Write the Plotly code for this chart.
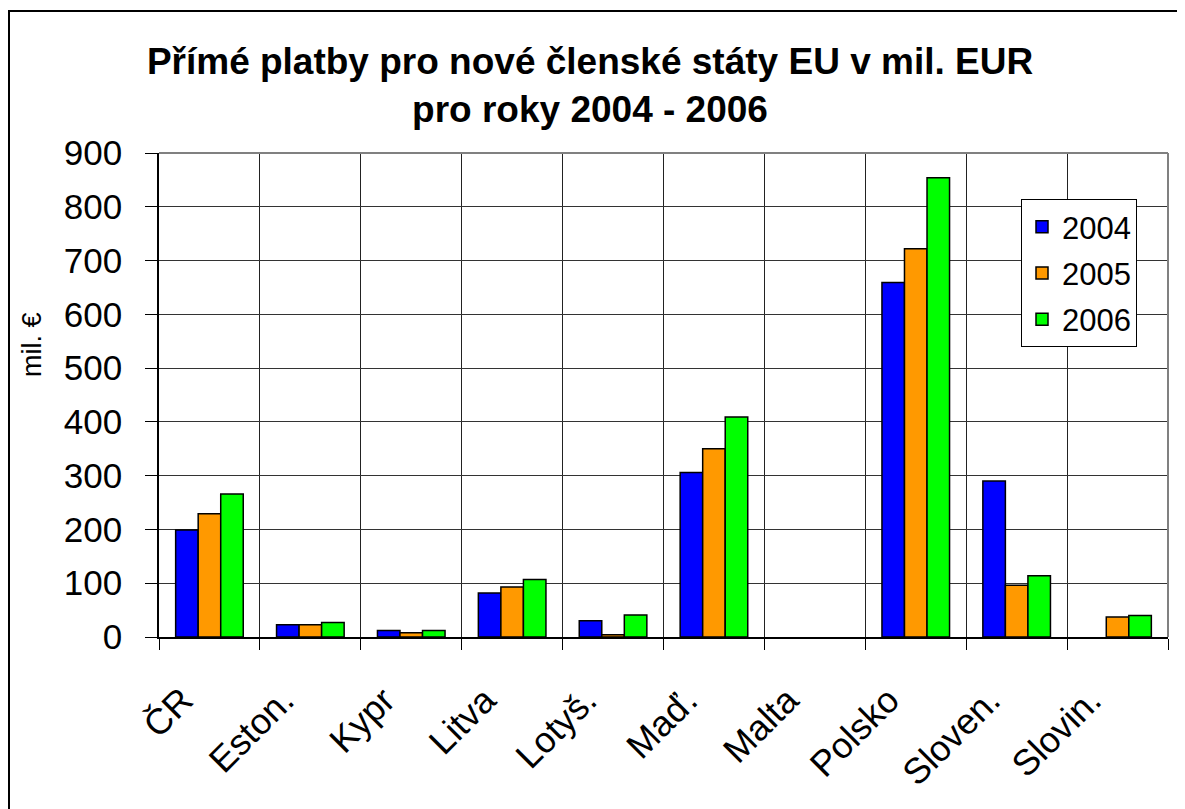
import plotly.graph_objects as go

categories = ["ČR", "Eston.", "Kypr", "Litva", "Lotyš.", "Maď.", "Malta", "Polsko", "Sloven.", "Slovin."]
years = ["2004", "2005", "2006"]
v2004 = [199, 23, 12, 82, 30, 306, None, 659, 290, None]
v2005 = [229, 23, 8, 93, 4, 350, None, 722, 96, 37]
v2006 = [266, 27, 12, 107, 41, 409, None, 854, 114, 40]
colors = ["#0000FF", "#FF9900", "#00FF00"]
y_ticks = [0, 100, 200, 300, 400, 500, 600, 700, 800, 900]

FONT = "Liberation Sans, Arial, sans-serif"

fig = go.Figure()
for name, vals, col in zip(years, [v2004, v2005, v2006], colors):
    fig.add_trace(go.Bar(
        x=categories, y=vals, name=name, legendgroup=name,
        marker=dict(color=col, line=dict(color="black", width=1.5)),
    ))

# page has an 8px body margin, so the figure is 8px smaller and all
# positions below are in figure pixels (page pixels minus 8)
W, H = 1177, 801
L, R, T, B = 151, 17, 145, 172
pw, ph = W - L - R, H - T - B

def px_x(x):
    return (x - L) / pw

def px_y(y):
    return (H - B - y) / ph

fig.update_layout(
    width=W, height=H,
    margin=dict(l=L, r=R, t=T, b=B, pad=0, autoexpand=False),
    paper_bgcolor="white", plot_bgcolor="white",
    barmode="group", bargap=0.33, bargroupgap=0,
    font=dict(family=FONT, color="black"),
    title=dict(
        text="<b>Přímé platby pro nové členské státy EU v mil. EUR<br>pro roky 2004 - 2006</b>",
        x=582 / W, xref="container", xanchor="center",
        y=1 - 66 / H, yref="container", yanchor="middle",
        font=dict(size=37, family=FONT, color="black"),
    ),
    legend=dict(
        x=px_x(1013), y=px_y(191), xanchor="left", yanchor="top",
        bordercolor="black", borderwidth=1, bgcolor="white",
        font=dict(size=31, family=FONT),
        tracegroupgap=3,
    ),
    showlegend=True,
    xaxis=dict(
        type="category", tickangle=-45, tickson="boundaries",
        ticks="outside", ticklen=11, tickcolor="black", tickwidth=1,
        showline=True, linecolor="black", linewidth=1.5,
        showgrid=True, gridcolor="#222222", gridwidth=1,
        tickfont=dict(size=36, family=FONT),
        ticklabelstandoff=26, ticklabelshift=-27,
        range=[-0.5, len(categories) - 0.5],
        automargin=False,
    ),
    yaxis=dict(
        range=[0, 900], tickvals=y_ticks,
        ticks="outside", ticklen=12, tickcolor="black", tickwidth=1,
        showline=True, linecolor="black", linewidth=1.5,
        showgrid=True, gridcolor="#333333", gridwidth=1,
        zeroline=False,
        tickfont=dict(size=35, family=FONT),
        ticklabelstandoff=16,
        automargin=False,
    ),
    annotations=[dict(
        text="mil. €", xref="paper", yref="paper",
        x=px_x(24), y=px_y(337), xanchor="center", yanchor="middle",
        textangle=-90, showarrow=False,
        font=dict(size=27, family=FONT, color="black"),
    )],
    shapes=[
        dict(type="line", xref="paper", yref="paper", x0=0, x1=1, y0=1, y1=1,
             line=dict(color="#808080", width=2), layer="above"),
        dict(type="line", xref="paper", yref="paper", x0=1, x1=1, y0=0, y1=1,
             line=dict(color="#808080", width=2), layer="above"),
        dict(type="rect", xref="paper", yref="paper",
             x0=px_x(1), x1=px_x(W + 20), y0=px_y(H + 20), y1=px_y(3),
             line=dict(color="black", width=2), layer="below"),
    ],
)

fig.write_html("out.html")
